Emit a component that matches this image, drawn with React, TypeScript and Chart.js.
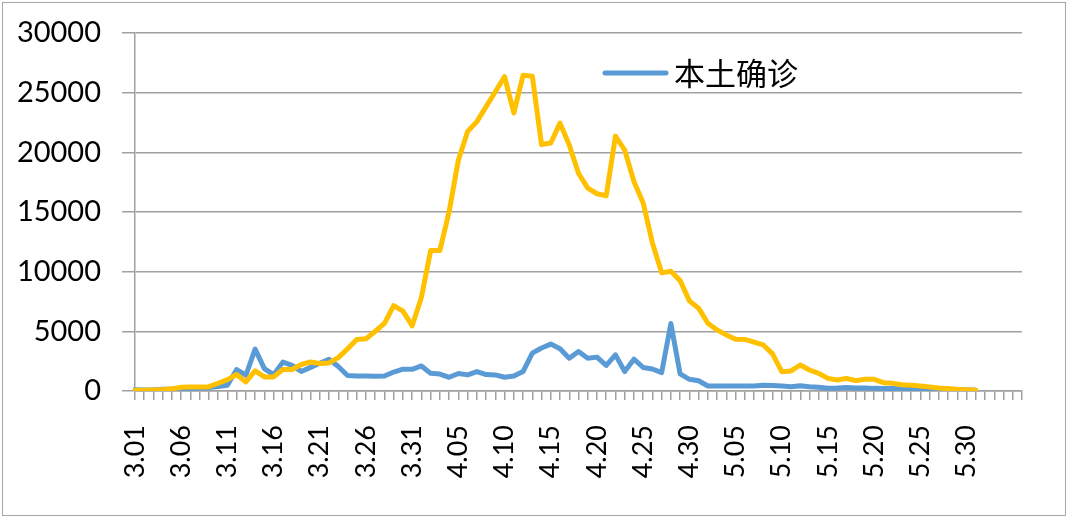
import React, { useEffect, useRef } from "react";
import { Chart, registerables } from "chart.js";

Chart.register(...registerables);

const categories: string[] = [
  "3.01","3.02","3.03","3.04","3.05","3.06","3.07","3.08","3.09","3.10",
  "3.11","3.12","3.13","3.14","3.15","3.16","3.17","3.18","3.19","3.20",
  "3.21","3.22","3.23","3.24","3.25","3.26","3.27","3.28","3.29","3.30","3.31",
  "4.01","4.02","4.03","4.04","4.05","4.06","4.07","4.08","4.09","4.10",
  "4.11","4.12","4.13","4.14","4.15","4.16","4.17","4.18","4.19","4.20",
  "4.21","4.22","4.23","4.24","4.25","4.26","4.27","4.28","4.29","4.30",
  "5.01","5.02","5.03","5.04","5.05","5.06","5.07","5.08","5.09","5.10",
  "5.11","5.12","5.13","5.14","5.15","5.16","5.17","5.18","5.19","5.20",
  "5.21","5.22","5.23","5.24","5.25","5.26","5.27","5.28","5.29","5.30","5.31",
  "","","","","",
];

const legendLabel = "本土确诊";

// 本土确诊 (blue)
const localConfirmed: number[] = [
  110, 90, 100, 150, 150, 180, 200, 250, 300, 380,
  480, 1800, 1320, 3510, 1870, 1370, 2420, 2150, 1640, 1980,
  2320, 2660, 2050, 1300, 1260, 1250, 1240, 1250, 1590, 1830, 1820,
  2100, 1480, 1420, 1150, 1470, 1350, 1630, 1380, 1350, 1150,
  1260, 1630, 3170, 3600, 3930, 3540, 2750, 3310, 2750, 2840,
  2140, 3030, 1630, 2670, 1970, 1840, 1540, 5650, 1430, 980,
  860, 420, 420, 420, 420, 420, 420, 480, 470, 420,
  360, 440, 360, 310, 230, 250, 300, 250, 250, 220,
  210, 200, 180, 160, 140, 120, 110, 100, 90, 80, 70,
];

// 无症状 (yellow, not in legend)
const asymptomatic: number[] = [
  60, 70, 90, 120, 180, 320, 340, 340, 360, 650,
  950, 1380, 760, 1680, 1180, 1180, 1800, 1800, 2220, 2430,
  2300, 2350, 2800, 3530, 4310, 4370, 5010, 5660, 7150, 6690, 5460,
  7850, 11770, 11780, 15040, 19360, 21740, 22570, 23830, 25080, 26340,
  23300, 26450, 26380, 20650, 20780, 22450, 20610, 18250, 17000, 16530,
  16360, 21360, 20190, 17550, 15750, 12410, 9900, 10030, 9250, 7550,
  6940, 5680, 5120, 4700, 4340, 4320, 4100, 3860, 3110, 1620,
  1680, 2180, 1760, 1480, 1060, 920, 1060, 870, 980, 980,
  700, 640, 530, 480, 420, 340, 250, 200, 140, 110, 60,
];

const yMin = 0;
const yMax = 30000;
const yStep = 5000;

const BLUE = "#5B9BD5";
const YELLOW = "#FFC000";
const GRID = "#a0a0a0";
const FONT = "Lato, 'Liberation Sans', sans-serif";

const legendPlugin = {
  id: "customLegend",
  afterDraw(chart: any) {
    const ctx = chart.ctx;
    const ds = chart.data.datasets[0];
    ctx.save();
    ctx.strokeStyle = ds.borderColor;
    ctx.lineWidth = 5;
    ctx.lineCap = "round";
    ctx.beginPath();
    ctx.moveTo(605, 73);
    ctx.lineTo(666, 73);
    ctx.stroke();
    ctx.fillStyle = "#000";
    ctx.font = "31px 'Noto Sans CJK SC'";
    ctx.textBaseline = "middle";
    ctx.textAlign = "left";
    ctx.fillText(ds.label, 674, 73);
    ctx.restore();
  },
};

export default function App() {
  const ref = useRef<HTMLCanvasElement | null>(null);

  useEffect(() => {
    if (!ref.current) return;
    const chart = new Chart(ref.current, {
      type: "line",
      data: {
        labels: categories,
        datasets: [
          {
            label: legendLabel,
            data: localConfirmed,
            borderColor: BLUE,
            backgroundColor: BLUE,
            borderWidth: 5,
            pointRadius: 0,
            tension: 0,
            borderJoinStyle: "round",
            borderCapStyle: "round",
            order: 1,
          },
          {
            label: "无症状",
            data: asymptomatic,
            borderColor: YELLOW,
            backgroundColor: YELLOW,
            borderWidth: 5,
            pointRadius: 0,
            tension: 0,
            borderJoinStyle: "round",
            borderCapStyle: "round",
            order: 0,
          },
        ],
      },
      options: {
        responsive: false,
        animation: false,
        layout: { padding: { top: 33, right: 58, left: 0, bottom: 0 } },
        plugins: {
          legend: { display: false },
          tooltip: { enabled: false },
        },
        scales: {
          x: {
            type: "category",
            offset: false,
            grid: {
              drawOnChartArea: false,
              drawTicks: true,
              tickLength: 9,
              color: GRID,
              lineWidth: 1.5,
              offset: false,
            },
            border: { color: GRID, width: 1.5 },
            ticks: {
              autoSkip: false,
              maxRotation: 90,
              minRotation: 90,
              padding: 25,
              color: "#000",
              font: { family: FONT, size: 27 },
              callback: (_v: any, i: number) => (i % 5 === 0 ? categories[i] : ""),
            },
            afterFit: (s: any) => {
              s.height = 137;
              s.paddingLeft = 0;
              s.paddingRight = 0;
            },
          },
          y: {
            min: yMin,
            max: yMax,
            grid: { color: GRID, lineWidth: 1.5, tickLength: 13 },
            border: { color: GRID, width: 1.5 },
            ticks: {
              stepSize: yStep,
              padding: 21,
              color: "#000",
              font: { family: FONT, size: 29 },
              callback: (v: any) => String(v),
            },
            afterFit: (s: any) => {
              s.width = 135;
              s.paddingTop = 0;
              s.paddingBottom = 0;
            },
          },
        },
      },
      plugins: [legendPlugin],
    } as any);
    return () => chart.destroy();
  }, []);

  return (
    <div style={{ position: "absolute", left: 0, top: 0, width: 1080, height: 528, background: "#fff" }}>
      <div
        style={{
          position: "absolute",
          left: 2,
          top: 2,
          width: 1064,
          height: 514,
          border: "1px solid #a6a6a6",
          boxSizing: "border-box",
        }}
      />
      <canvas ref={ref} width={1080} height={528} style={{ position: "absolute", left: 0, top: 0, display: "block" }} />
    </div>
  );
}
